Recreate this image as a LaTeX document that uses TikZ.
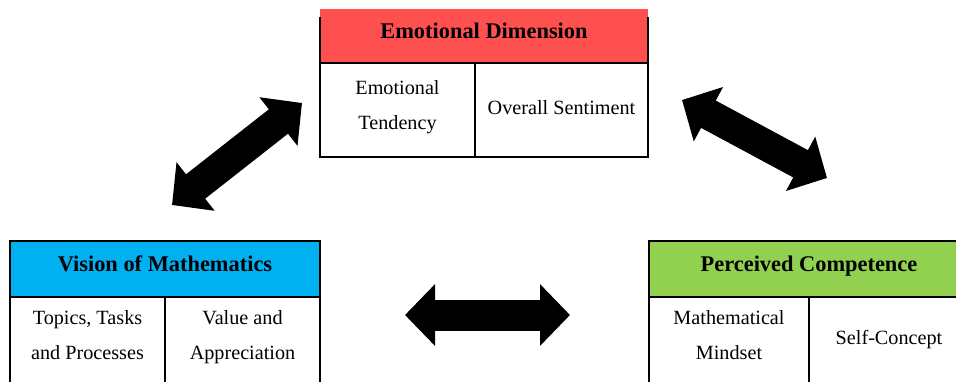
\documentclass[tikz,border=0pt]{standalone}
\usepackage{fontspec}
\setmainfont{Liberation Serif}
\usetikzlibrary{arrows.meta}

\definecolor{emored}{HTML}{FF5050}
\definecolor{visblue}{HTML}{00B0F0}
\definecolor{compgreen}{HTML}{92D050}

\newcommand{\cellstrut}{\rule[-5.5pt]{0pt}{15pt}}
\newcommand{\lowstrut}{\rule[-7pt]{0pt}{15.3pt}}

\tikzset{
  head/.style={minimum height=27pt, inner sep=0pt, outer sep=0pt,
    font=\fontsize{11.2}{13}\selectfont\bfseries, text height=7pt, text depth=4.5pt},
  framed/.style={draw=black, line width=1pt},
  cell/.style={framed, inner sep=0pt, outer sep=0pt, align=center,
    font=\fontsize{10.1}{17.5}\selectfont,
    execute at begin node=\cellstrut, execute at end node=\cellstrut},
  lowcell/.style={cell, minimum height=44.5pt,
    execute at begin node=\lowstrut, execute at end node=\lowstrut},
  bigarrow/.style={line width=15.5pt,
    {Triangle[length=15pt,width=30pt]}-{Triangle[length=15pt,width=30pt]}}
}

\begin{document}
\begin{tikzpicture}[x=0.5pt,y=-0.5pt]
\useasboundingbox (0,0) rectangle (956,381);

% emotional dimension
\node[head, fill=emored, minimum width=164pt, anchor=north west] (emoHead) at (320,9) {Emotional Dimension};
\node[cell, minimum width=77.5pt, minimum height=47pt, anchor=north west] (emoTend) at (320,63) {Emotional\\Tendency};
\node[cell, minimum width=86.5pt, minimum height=47pt, anchor=north west] (emoSent) at (475,63) {Overall Sentiment};
\draw[framed] (320,17) -- (emoTend.north west);
\draw[framed] (648,17) -- (emoSent.north east);

% vision of mathematics
\node[head, framed, fill=visblue, minimum width=155pt, minimum height=28pt, anchor=north west] (visHead) at (10,241) {Vision of Mathematics};
\node[lowcell, minimum width=77.5pt, anchor=north west] (visTopic) at (10,297) {Topics, Tasks\\and Processes};
\node[lowcell, minimum width=77.5pt, anchor=north west] (visValue) at (165,297) {Value and\\Appreciation};

% perceived competence
\node[head, framed, fill=compgreen, minimum width=160pt, minimum height=28pt, anchor=north west] (compHead) at (649,241) {Perceived Competence};
\node[lowcell, minimum width=80pt, anchor=north west] (compMind) at (649,297) {Mathematical\\Mindset};
\node[lowcell, minimum width=80pt, anchor=north west] (compSelf) at (809,297) {Self-Concept};

% block arrows
\coordinate (veA) at (172,205);
\coordinate (veB) at (302,103);
\coordinate (ecA) at (682,100);
\coordinate (ecB) at (827,178);
\coordinate (vcA) at (405,315);
\coordinate (vcB) at (570,315);
\draw[bigarrow] (veA) -- (veB);
\draw[bigarrow] (ecA) -- (ecB);
\draw[bigarrow] (vcA) -- (vcB);
\end{tikzpicture}
\end{document}
